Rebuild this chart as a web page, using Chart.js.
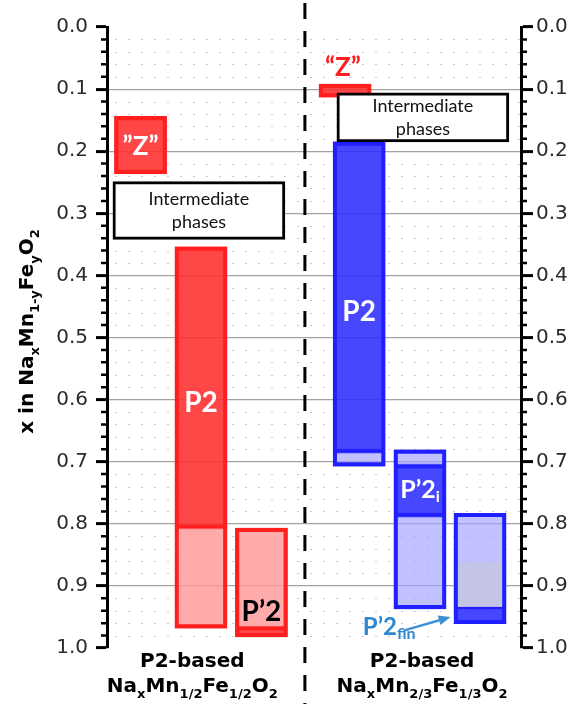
<!DOCTYPE html>
<html>
<head>
<meta charset="utf-8">
<script src="https://cdn.jsdelivr.net/npm/chart.js@4.4.1/dist/chart.umd.min.js"></script>
<style>
  html, body { margin: 0; padding: 0; background: #fff; }
  #wrap { width: 571px; height: 704px; }
</style>
</head>
<body>
<div id="wrap"><canvas id="phaseChart" width="571" height="704"></canvas></div>
<script>
// one column per phase field, placed along a hidden 0..100 axis
var phases    = ['Z', 'P2', "P'2", 'Z', 'P2', "P'2i", "P'2fin"];
var compound  = ['1/2', '1/2', '1/2', '2/3', '2/3', '2/3', '2/3'];
var columnX   = [8.1, 22.7, 37.3, 57.5, 60.9, 75.6, 90.1];

// x ranges (Na content)
var outlineRange = [[0.144, 0.236], [0.354, 0.968], [0.807, 0.982], [0.092, 0.113], [0.185, 0.707], [0.681, 0.937], [0.783, 0.961]];
var darkRange    = [[0.144, 0.236], [0.354, 0.805], [0.968, 0.982], [0.092, 0.113], [0.185, 0.683], [0.707, 0.786], [0.934, 0.961]];
var lightRange   = [null, [0.805, 0.968], [0.807, 0.968], null, [0.683, 0.707], [0.681, 0.707], [0.783, 0.934]];
var lightRange2  = [null, null, null, null, null, [0.786, 0.937], null];
var mixedRange   = [null, null, null, null, null, null, [0.863, 0.934]];

// intermediate phases boxes
var interX     = [22.2, 76.3];
var interRange = [[0.249, 0.342], [0.106, 0.185]];

var dividerX    = 47.8;
var yTickLabels = ['0.0', '0.1', '0.2', '0.3', '0.4', '0.5', '0.6', '0.7', '0.8', '0.9', '1.0'];
var groupX      = [20.6, 76.1];
var groupNames  = ['P2-based', 'P2-based'];
var groupFormula = [
  [['Na', ''], ['x', 'sub'], ['Mn', ''], ['1/2', 'sub'], ['Fe', ''], ['1/2', 'sub'], ['O', ''], ['2', 'sub']],
  [['Na', ''], ['x', 'sub'], ['Mn', ''], ['2/3', 'sub'], ['Fe', ''], ['1/3', 'sub'], ['O', ''], ['2', 'sub']]
];
var axisTitle = [['x in Na', ''], ['x', 'sub'], ['Mn', ''], ['1-y', 'sub'], ['Fe', ''], ['y', 'sub'], ['O', ''], ['2', 'sub']];

var RED = { border: '#ff1f1f', dark: 'rgba(255,45,45,0.88)', light: 'rgba(255,150,150,0.8)', mixed: 'rgba(255,150,150,0.8)' };
var BLUE = { border: '#1f1fff', dark: 'rgba(45,45,255,0.88)', light: 'rgba(160,160,255,0.65)', mixed: 'rgba(196,196,228,1)' };

function palette(i) {
  return (phases[i] === 'Z' || compound[i] === '1/2') ? RED : BLUE;
}

function toBars(ranges) {
  var out = [];
  ranges.forEach(function (r, i) {
    if (r) out.push({ x: columnX[i], y: r, col: i });
  });
  return out;
}

function segment(ranges, shade, bw) {
  return {
    data: toBars(ranges),
    stack: 'all',
    barThickness: 52,
    borderSkipped: false,
    borderWidth: bw,
    backgroundColor: function (c) { return c.raw ? palette(c.raw.col)[shade] : 'transparent'; },
    borderColor: function (c) { return c.raw ? palette(c.raw.col).border : 'transparent'; }
  };
}

var interData = interRange.map(function (r, i) { return { x: interX[i], y: r }; });

// labels drawn over the bars
var barLabels = [
  { parts: [['\u201DZ\u201D', '']], x: columnX[0], y: 0.192, color: '#fff', size: 26 },
  { parts: [['P2', '']], x: columnX[1], y: 0.605, color: '#fff', size: 28 },
  { parts: [['P\u20192', '']], x: columnX[2], y: 0.942, color: '#000', size: 28 },
  { parts: [['\u201CZ\u201D', '']], x: 57.0, y: 0.066, color: '#ff1f1f', size: 26 },
  { parts: [['P2', '']], x: columnX[4], y: 0.459, color: '#fff', size: 28 },
  { parts: [['P\u20192', ''], ['i', 'sub']], x: columnX[5], y: 0.746, color: '#fff', size: 25 },
  { parts: [['P\u20192', ''], ['fin', 'sub']], x: 61.8, y: 0.966, color: '#2f88cf', size: 24, align: 'left' }
];

function drawRich(ctx, parts, x, y, size, family, weight, align) {
  var subSize = Math.round(size * 0.65);
  var widths = parts.map(function (p) {
    ctx.font = weight + ' ' + (p[1] === 'sub' ? subSize : size) + 'px ' + family;
    return ctx.measureText(p[0]).width;
  });
  var total = widths.reduce(function (a, b) { return a + b; }, 0);
  var cx = align === 'left' ? x : x - total / 2;
  ctx.textAlign = 'left';
  parts.forEach(function (p, i) {
    ctx.font = weight + ' ' + (p[1] === 'sub' ? subSize : size) + 'px ' + family;
    ctx.fillText(p[0], cx, p[1] === 'sub' ? y + size * 0.28 : y);
    cx += widths[i];
  });
}

var decorations = {
  id: 'decorations',
  beforeDatasetsDraw: function (chart) {
    var ctx = chart.ctx, a = chart.chartArea, ys = chart.scales.y;
    ctx.save();
    ctx.strokeStyle = '#cacaca';
    ctx.lineWidth = 1;
    ctx.setLineDash([2, 11]);
    for (var k = 1; k < 50; k++) {
      if (k % 5 === 0) continue;
      var py = Math.round(ys.getPixelForValue(k / 50)) + 0.5;
      ctx.beginPath();
      ctx.moveTo(a.left + 8, py);
      ctx.lineTo(a.right, py);
      ctx.stroke();
    }
    ctx.restore();
  },
  afterDatasetsDraw: function (chart) {
    var ctx = chart.ctx, xs = chart.scales.x, ys = chart.scales.y;
    ctx.save();
    // divider between the two compounds
    var dx = xs.getPixelForValue(dividerX);
    ctx.strokeStyle = '#000';
    ctx.lineWidth = 3;
    ctx.setLineDash([16, 12]);
    ctx.beginPath();
    ctx.moveTo(dx, 3);
    ctx.lineTo(dx, chart.height);
    ctx.stroke();
    ctx.setLineDash([]);

    // intermediate phases text
    ctx.fillStyle = '#111';
    ctx.textBaseline = 'middle';
    ctx.textAlign = 'center';
    ctx.font = '18px Lato';
    interRange.forEach(function (r, i) {
      var cx = xs.getPixelForValue(interX[i]);
      var cy = ys.getPixelForValue((r[0] + r[1]) / 2);
      ctx.fillText('Intermediate', cx, cy - 11);
      ctx.fillText('phases', cx, cy + 12);
    });

    // phase labels
    barLabels.forEach(function (l) {
      ctx.fillStyle = l.color;
      drawRich(ctx, l.parts, xs.getPixelForValue(l.x), ys.getPixelForValue(l.y), l.size, 'Lato', 'bold', l.align);
    });

    // arrow to the P'2fin column
    var x1 = xs.getPixelForValue(71.6), y1 = ys.getPixelForValue(0.972);
    var x2 = xs.getPixelForValue(83.0), y2 = ys.getPixelForValue(0.950);
    var ang = Math.atan2(y2 - y1, x2 - x1);
    ctx.strokeStyle = '#3d8fd6';
    ctx.fillStyle = '#3d8fd6';
    ctx.lineWidth = 2.5;
    ctx.beginPath();
    ctx.moveTo(x1, y1);
    ctx.lineTo(x2 - 8 * Math.cos(ang), y2 - 8 * Math.sin(ang));
    ctx.stroke();
    ctx.beginPath();
    ctx.moveTo(x2, y2);
    ctx.lineTo(x2 - 12 * Math.cos(ang) + 5 * Math.sin(ang), y2 - 12 * Math.sin(ang) - 5 * Math.cos(ang));
    ctx.lineTo(x2 - 12 * Math.cos(ang) - 5 * Math.sin(ang), y2 - 12 * Math.sin(ang) + 5 * Math.cos(ang));
    ctx.closePath();
    ctx.fill();
    ctx.restore();
  },
  afterDraw: function (chart) {
    var ctx = chart.ctx, a = chart.chartArea, xs = chart.scales.x, ys = chart.scales.y;
    ctx.save();
    // minor ticks on both axes
    ctx.strokeStyle = '#000';
    ctx.lineWidth = 2.5;
    for (var k = 1; k < 50; k++) {
      if (k % 5 === 0) continue;
      var py = ys.getPixelForValue(k / 50);
      ctx.beginPath();
      ctx.moveTo(a.left - 6, py);
      ctx.lineTo(a.left, py);
      ctx.moveTo(a.right, py);
      ctx.lineTo(a.right + 6, py);
      ctx.stroke();
    }

    // y axis title (rotated, with subscripts)
    ctx.fillStyle = '#000';
    ctx.textBaseline = 'alphabetic';
    ctx.translate(33, (a.top + a.bottom) / 2 - 6);
    ctx.rotate(-Math.PI / 2);
    drawRich(ctx, axisTitle, 0, 0, 20, '"DejaVu Sans"', 'bold', 'center');
    ctx.restore();

    // compound names under the plot
    ctx.save();
    ctx.fillStyle = '#000';
    ctx.textBaseline = 'alphabetic';
    groupNames.forEach(function (name, i) {
      var cx = xs.getPixelForValue(groupX[i]);
      drawRich(ctx, [[name, '']], cx, 667, 20, '"DejaVu Sans"', 'bold', 'center');
      drawRich(ctx, groupFormula[i], cx, 692, 20, '"DejaVu Sans"', 'bold', 'center');
    });
    ctx.restore();
  }
};

function majorTick(v) {
  return Math.round(v * 50) % 5 === 0;
}

function yAxis(side) {
  var left = side === 'left';
  return {
    type: 'linear',
    position: side,
    reverse: true,
    min: 0,
    max: 1,
    stacked: false,
    afterFit: function (s) { s.width = left ? 107 : 50; },
    ticks: {
      stepSize: 0.02,
      autoSkip: false,
      padding: left ? 8 : 3,
      color: '#2b2b2b',
      font: { family: 'DejaVu Sans', size: 20 },
      callback: function (v) {
        var k = Math.round(v * 50);
        return k % 5 === 0 ? yTickLabels[k / 5] : '';
      }
    },
    grid: {
      drawOnChartArea: left,
      tickLength: left ? 11 : 12,
      lineWidth: 1.2,
      tickWidth: 3,
      color: function (c) {
        var k = Math.round(c.tick.value * 50);
        return (k % 5 === 0 && k > 0 && k < 50) ? '#a3a3a3' : 'rgba(0,0,0,0)';
      },
      tickColor: function (c) {
        return majorTick(c.tick.value) ? '#000' : 'rgba(0,0,0,0)';
      }
    },
    border: { display: true, color: '#000', width: 3 }
  };
}

// first dataset is painted on top
var datasets = [
  {
    data: interData,
    stack: 'all',
    barThickness: 172,
    borderSkipped: false,
    borderWidth: 3,
    backgroundColor: '#ffffff',
    borderColor: '#000000'
  },
  segment(outlineRange, 'none', 3.5),
  segment(darkRange, 'dark', 2),
  segment(mixedRange, 'mixed', 0),
  segment(lightRange, 'light', 2),
  segment(lightRange2, 'light', 2)
];
datasets[1].backgroundColor = 'rgba(0,0,0,0)';

new Chart(document.getElementById('phaseChart'), {
  type: 'bar',
  data: { datasets: datasets },
  options: {
    responsive: false,
    animation: false,
    layout: { padding: { left: 0, right: 0, top: 27, bottom: 56 } },
    plugins: { legend: { display: false }, tooltip: { enabled: false } },
    scales: {
      x: { type: 'linear', min: 0, max: 100, display: false, offset: false },
      y: yAxis('left'),
      y2: yAxis('right')
    }
  },
  plugins: [decorations]
});
</script>
</body>
</html>
